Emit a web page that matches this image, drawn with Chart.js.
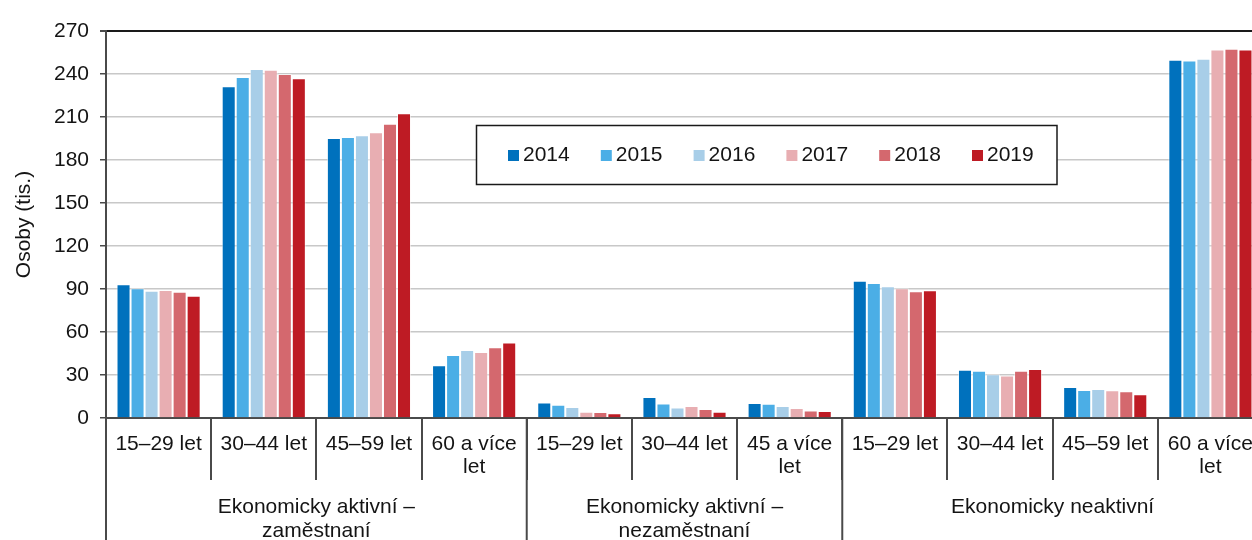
<!DOCTYPE html>
<html lang="cs">
<head>
<meta charset="utf-8">
<script src="https://cdn.jsdelivr.net/npm/chart.js@4/dist/chart.umd.min.js"></script>
<style>
  html, body { margin: 0; padding: 0; background: #fff; overflow: hidden; }
  #wrap { width: 1252px; height: 540px; overflow: hidden; position: relative; }
  canvas { display: block; }
</style>
</head>
<body>
<div id="wrap"><canvas id="c" width="1270" height="560"></canvas></div>
<script>
// ---- data ----
const categories = ["15–29 let", "30–44 let", "45–59 let", "60 a více\nlet",
                    "15–29 let", "30–44 let", "45 a více\nlet",
                    "15–29 let", "30–44 let", "45–59 let", "60 a více\nlet"];
const groupLabels = ["Ekonomicky aktivní –\nzaměstnaní", "Ekonomicky aktivní –\nnezaměstnaní", "Ekonomicky neaktivní"];
const groupSizes = [4, 3, 4];
const years = ["2014", "2015", "2016", "2017", "2018", "2019"];
const v2014 = [93.3, 231.4, 195.3, 36.8, 10.9, 14.7, 10.5, 95.7, 33.7, 21.7, 249.9];
const v2015 = [90.5, 237.9, 196.0, 44.0, 9.3, 10.2, 10.0, 94.2, 33.0, 19.5, 249.4];
const v2016 = [88.8, 243.5, 197.2, 47.4, 7.7, 7.4, 8.4, 92.0, 30.6, 20.2, 250.6];
const v2017 = [89.3, 243.0, 199.3, 46.0, 4.4, 8.4, 7.0, 90.6, 29.6, 19.3, 257.1];
const v2018 = [88.1, 240.0, 205.3, 49.3, 4.2, 6.3, 5.3, 88.4, 33.0, 18.6, 257.6];
const v2019 = [85.3, 237.0, 212.6, 52.6, 3.3, 4.4, 4.9, 89.2, 34.2, 16.6, 257.1];
const yTicks = [0, 30, 60, 90, 120, 150, 180, 210, 240, 270];
const yTitle = "Osoby (tis.)";

// ---- styles ----
const colors = ["#0071BD", "#4BAEE6", "#A8CEE8", "#E8AEB2", "#D4686E", "#BE1B24"];
const FONT = "'Liberation Sans', Arial, Helvetica, sans-serif";
const FS = 21;
const TEXT = "#141414";
const AXIS = "#4a4a4a";

const series = [v2014, v2015, v2016, v2017, v2018, v2019];

const groupPlugin = {
  id: 'groups',
  afterDraw(chart) {
    const ctx = chart.ctx;
    const x = chart.scales.x;
    const area = chart.chartArea;
    const half = (x.getPixelForValue(1) - x.getPixelForValue(0)) / 2;
    const bottom = chart.height;
    ctx.save();
    ctx.strokeStyle = AXIS;
    ctx.lineWidth = 2;
    let start = 0;
    const bounds = [x.getPixelForValue(0) - half];
    groupSizes.forEach(n => { start += n; bounds.push(x.getPixelForValue(start - 1) + half); });
    bounds.forEach(px => {
      ctx.beginPath(); ctx.moveTo(px, area.bottom); ctx.lineTo(px, bottom); ctx.stroke();
    });
    ctx.fillStyle = TEXT;
    ctx.font = FS + "px " + FONT;
    ctx.textAlign = 'center';
    ctx.textBaseline = 'middle';
    groupLabels.forEach((lab, i) => {
      const cx = (bounds[i] + bounds[i + 1]) / 2;
      lab.split("\n").forEach((line, j) => {
        ctx.fillText(line, cx, area.bottom + 89 + j * 24.5);
      });
    });
    ctx.restore();
  },
  afterDatasetsDraw(chart) {
    // legend box
    const ctx = chart.ctx;
    const bx = 476.5, by = 125.5, bw = 580.5, bh = 59;
    ctx.save();
    ctx.fillStyle = '#fff';
    ctx.fillRect(bx, by, bw, bh);
    ctx.strokeStyle = '#1a1a1a';
    ctx.lineWidth = 1.5;
    ctx.strokeRect(bx, by, bw, bh);
    ctx.font = FS + "px " + FONT;
    ctx.textBaseline = 'alphabetic';
    ctx.textAlign = 'left';
    chart.data.datasets.forEach((ds, i) => {
      const mx = 508 + i * 92.8;
      ctx.fillStyle = ds.backgroundColor;
      ctx.fillRect(mx, 150, 11, 11);
      ctx.fillStyle = TEXT;
      ctx.fillText(ds.label, mx + 15, 161);
    });
    ctx.restore();
  }
};

new Chart(document.getElementById('c'), {
  type: 'bar',
  data: {
    labels: categories.map(s => s.split("\n")),
    datasets: years.map((y, i) => ({
      label: y,
      data: series[i],
      backgroundColor: colors[i],
      borderColor: 'rgba(255,255,255,0.55)',
      borderWidth: 1,
      borderSkipped: 'bottom',
      categoryPercentage: 0.8,
      barPercentage: 1.0
    }))
  },
  options: {
    responsive: false,
    animation: false,
    devicePixelRatio: 1,
    layout: { padding: { left: 0, right: 7, top: 31, bottom: 0 } },
    plugins: { legend: { display: false }, tooltip: { enabled: false } },
    scales: {
      x: {
        type: 'category',
        afterFit(s) { s.height = 142; },
        grid: {
          offset: true, drawOnChartArea: false, drawTicks: true,
          tickLength: 62, tickColor: AXIS, color: AXIS, lineWidth: 2
        },
        border: { display: true, color: AXIS, width: 2 },
        ticks: {
          autoSkip: false, maxRotation: 0, minRotation: 0,
          padding: -48,
          color: TEXT,
          font: { family: FONT, size: FS, lineHeight: 1.12 }
        }
      },
      y: {
        min: 0, max: 270,
        afterFit(s) { s.width = 106; },
        afterBuildTicks(s) { s.ticks = yTicks.map(v => ({ value: v })); },
        grid: {
          color: c => (c.tick && c.tick.value === 270) ? '#1a1a1a' : '#c8c8c8',
          lineWidth: c => (c.tick && c.tick.value === 270) ? 2 : 1.5,
          tickColor: AXIS, tickLength: 6, drawTicks: true
        },
        border: { display: true, color: AXIS, width: 2 },
        ticks: {
          padding: 11,
          color: TEXT,
          font: { family: FONT, size: FS }
        },
        title: {
          display: true, text: yTitle, color: TEXT,
          font: { family: FONT, size: FS },
          padding: { top: 12, bottom: 0 }
        }
      }
    }
  },
  plugins: [groupPlugin]
});
</script>
</body>
</html>
